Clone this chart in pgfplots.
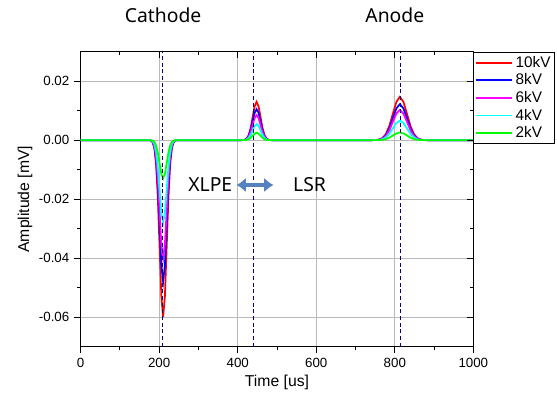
\documentclass[border=0pt]{standalone}
\usepackage{pgfplots}
\usepackage{pgfplotstable}
\pgfplotsset{compat=1.18}
\usepackage{fontspec}
\setmainfont{Liberation Sans}
\newfontfamily\notofont{Noto Sans}
\usetikzlibrary{arrows.meta}
\definecolor{navyd}{RGB}{0,0,128}
\definecolor{arrowblue}{RGB}{84,130,190}
\definecolor{cR}{RGB}{255,0,0}
\definecolor{cB}{RGB}{0,0,255}
\definecolor{cM}{RGB}{255,0,255}
\definecolor{cC}{RGB}{0,255,255}
\definecolor{cG}{RGB}{0,255,0}

\pgfplotstableread{
t v10 v8 v6 v4 v2
0 0 0 0 0 0
174 -0.00002 -0.000014 -0.000012 -0.000008 -0.000004
178.5 -0.000132 -0.000106 -0.000088 -0.000062 -0.000029
183 -0.000666 -0.000533 -0.000444 -0.000311 -0.000144
187.5 -0.002634 -0.002107 -0.001756 -0.001229 -0.000571
192 -0.008118 -0.006494 -0.005412 -0.003788 -0.001759
196.5 -0.019482 -0.015586 -0.012988 -0.009092 -0.004221
201 -0.03639 -0.029112 -0.02426 -0.016982 -0.007885
205.5 -0.05295 -0.04236 -0.0353 -0.02471 -0.011473
210 -0.060 -0.048 -0.040 -0.028 -0.013
214.5 -0.05295 -0.04236 -0.0353 -0.02471 -0.011473
219 -0.03639 -0.029112 -0.02426 -0.016982 -0.007885
223.5 -0.019482 -0.015586 -0.012988 -0.009092 -0.004221
228 -0.008118 -0.006494 -0.005412 -0.003788 -0.001759
232.5 -0.002634 -0.002107 -0.001756 -0.001229 -0.000571
237 -0.000666 -0.000533 -0.000444 -0.000311 -0.000144
241.5 -0.000132 -0.000106 -0.000088 -0.000062 -0.000029
246 -0.00002 -0.000014 -0.000012 -0.000008 -0.000004
408 0.000004 0.000003 0.000003 0.000002 0.000001
413 0.000029 0.000023 0.000019 0.000012 0.000006
418 0.000144 0.000117 0.000094 0.000061 0.000028
423 0.000571 0.000461 0.000373 0.000241 0.00011
428 0.001759 0.001421 0.00115 0.000744 0.000338
433 0.004221 0.003409 0.00276 0.001786 0.000812
438 0.007885 0.006368 0.005155 0.003336 0.001516
443 0.011473 0.009266 0.007501 0.004854 0.002206
448 0.013 0.0105 0.0085 0.0055 0.0025
453 0.011473 0.009266 0.007501 0.004854 0.002206
458 0.007885 0.006368 0.005155 0.003336 0.001516
463 0.004221 0.003409 0.00276 0.001786 0.000812
468 0.001759 0.001421 0.00115 0.000744 0.000338
473 0.000571 0.000461 0.000373 0.000241 0.00011
478 0.000144 0.000117 0.000094 0.000061 0.000028
483 0.000029 0.000023 0.000019 0.000012 0.000006
488 0.000004 0.000003 0.000003 0.000002 0.000001
741 0.000004 0.000004 0.000003 0.000002 0.000001
750 0.000032 0.000027 0.000022 0.000015 0.000006
759 0.000163 0.000135 0.000113 0.000073 0.000029
768 0.000645 0.000536 0.000448 0.00029 0.000114
777 0.001989 0.001651 0.00138 0.000893 0.000352
786 0.004773 0.003961 0.003312 0.002143 0.000844
795 0.008916 0.0074 0.006186 0.004003 0.001577
804 0.012973 0.010767 0.009002 0.005825 0.002295
813 0.0147 0.0122 0.0102 0.0066 0.0026
822 0.012973 0.010767 0.009002 0.005825 0.002295
831 0.008916 0.0074 0.006186 0.004003 0.001577
840 0.004773 0.003961 0.003312 0.002143 0.000844
849 0.001989 0.001651 0.00138 0.000893 0.000352
858 0.000645 0.000536 0.000448 0.00029 0.000114
867 0.000163 0.000135 0.000113 0.000073 0.000029
876 0.000032 0.000027 0.000022 0.000015 0.000006
885 0.000004 0.000004 0.000003 0.000002 0.000001
1000 0 0 0 0 0
}\datatable

\begin{document}
\begin{tikzpicture}
\useasboundingbox (0,0) rectangle (417.75pt,298.5pt);
\pgfplotsset{
  common/.style={
    at={(60.5pt,38.5pt)}, anchor=south west,
    width=294.5pt, height=221.25pt, scale only axis,
    xmin=0, xmax=1000, ymin=-0.07, ymax=0.03,
    xtick={0,200,400,600,800,1000},
    ytick={-0.06,-0.04,-0.02,0,0.02},
    minor x tick num=1, minor y tick num=1,
    major tick length=5pt, minor tick length=2.6pt,
    scaled y ticks=false,
  }
}
\begin{axis}[common,
  axis line style={black, line width=0.7pt},
  every tick/.style={black, line width=0.7pt},
  tick align=outside, xtick pos=left, ytick pos=left,
  grid=major, major grid style={gray!55, line width=0.7pt},
  ticklabel style={font=\fontsize{10}{12}\selectfont},
  /pgf/number format/assume math mode=true,
  /pgf/number format/1000 sep={},
  yticklabel style={/pgf/number format/.cd, fixed, fixed zerofill, precision=2, assume math mode=true},
  xlabel={Time [us]}, ylabel={Amplitude [mV]},
  label style={font=\fontsize{11.8}{14}\selectfont},
  xlabel style={yshift=1pt},
  ylabel style={yshift=-2pt},
  legend style={at={(1,1)}, anchor=north west, draw=black, line width=0.6pt,
    font=\fontsize{11.5}{13}\selectfont, inner xsep=1pt, inner ysep=1pt,
    row sep=-0.6pt},
  legend cell align=left,
  legend image code/.code={\draw[#1, line width=1.4pt] (0pt,0pt) -- (27pt,0pt);},
  clip mode=individual,
]
\addplot[cR, line width=1.3pt] table[x=t, y=v10] {\datatable};
\addlegendentry{10kV}
\addplot[cB, line width=1.3pt] table[x=t, y=v8] {\datatable};
\addlegendentry{8kV}
\addplot[cM, line width=1.3pt] table[x=t, y=v6] {\datatable};
\addlegendentry{6kV}
\addplot[cC, line width=1.3pt] table[x=t, y=v4] {\datatable};
\addlegendentry{4kV}
\addplot[cG, line width=1.3pt] table[x=t, y=v2] {\datatable};
\addlegendentry{2kV}
\addplot[navyd, dash pattern=on 3pt off 2pt, line width=0.6pt, forget plot] coordinates {(208,-0.07) (208,0.03)};
\addplot[navyd, dash pattern=on 3pt off 2pt, line width=0.6pt, forget plot] coordinates {(439,-0.07) (439,0.03)};
\addplot[navyd, dash pattern=on 3pt off 2pt, line width=0.6pt, forget plot] coordinates {(815,-0.07) (815,0.03)};
\draw[arrowblue, line width=3pt, {Latex[length=7pt,width=11pt]}-{Latex[length=7pt,width=11pt]}] (axis cs:397,-0.0152) -- (axis cs:491,-0.0152);
\node[font=\notofont\fontsize{14.5}{16}\selectfont] at (axis cs:330,-0.0150) {XLPE};
\node[font=\notofont\fontsize{14.5}{16}\selectfont] at (axis cs:583,-0.0150) {LSR};
\node[font=\notofont\fontsize{14.5}{16}\selectfont] at (axis cs:210,0.03) [yshift=27.5pt] {Cathode};
\node[font=\notofont\fontsize{14.5}{16}\selectfont] at (axis cs:800,0.03) [yshift=27.5pt] {Anode};
\end{axis}
\begin{axis}[common,
  axis line style={draw=none},
  every tick/.style={black, line width=0.7pt},
  tick align=inside, xtick pos=right, ytick pos=right,
  xticklabels={}, yticklabels={},
]
\end{axis}
\end{tikzpicture}
\end{document}
